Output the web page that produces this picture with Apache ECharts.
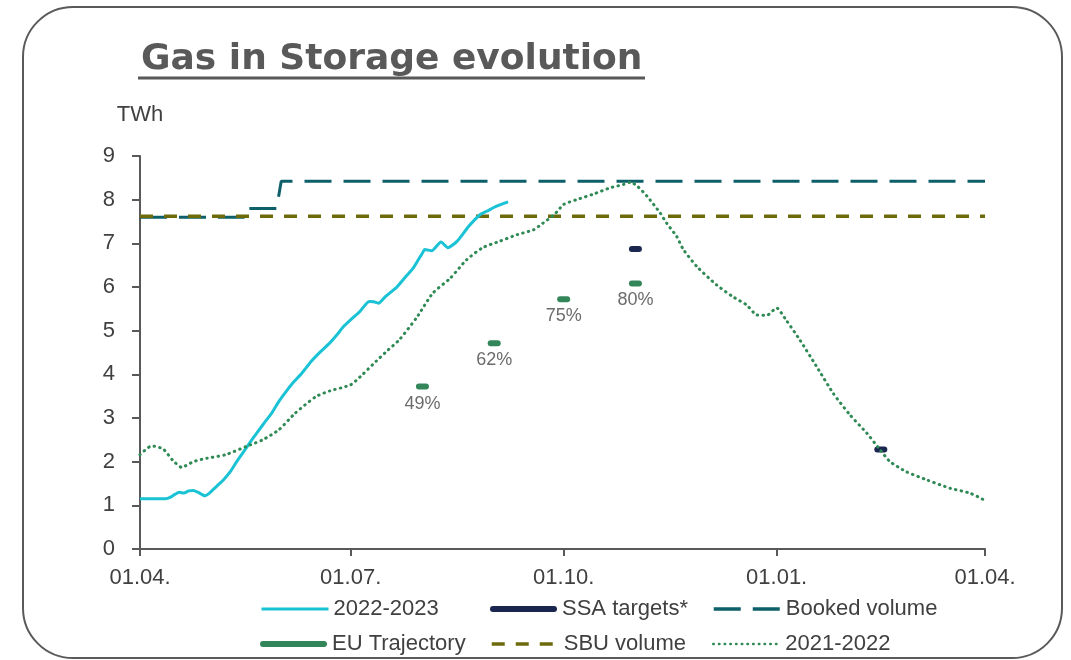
<!DOCTYPE html>
<html>
<head>
<meta charset="utf-8">
<script src="https://cdn.jsdelivr.net/npm/echarts@6/dist/echarts.min.js"></script>
<style>html,body{margin:0;padding:0;background:#fff}#c{width:1071px;height:660px}</style>
</head>
<body>
<div id="c"></div>
<script>
// x values are days since 01.04. (start of gas year)
const tickDays = [0, 91, 183, 275, 365];
const tickLabels = ['01.04.', '01.07.', '01.10.', '01.01.', '01.04.'];
const yTicks = [0, 1, 2, 3, 4, 5, 6, 7, 8, 9];

const season2223 = [
  [0,1.15],[11,1.15],[13,1.18],[15,1.25],[17,1.3],[19,1.28],[21,1.33],[23,1.34],[25,1.3],[28,1.22],
  [30,1.28],[33,1.43],[36,1.58],[39,1.77],[42,2.02],[46,2.32],[49,2.55],[53,2.84],[57,3.12],[60,3.38],
  [63,3.6],[66,3.8],[70,4.03],[74,4.3],[78,4.52],[82,4.72],[85,4.9],[88,5.1],[92,5.3],[95,5.44],
  [99,5.67],[101,5.66],[103,5.63],[106,5.78],[111,6.0],[115,6.25],[118,6.43],[122,6.78],[123,6.86],[126,6.83],
  [130,7.03],[133,6.9],[137,7.05],[142,7.39],[147,7.66],[150,7.74],[154,7.85],[159,7.95]
];
const season2122 = [
  [0,2.16],[5,2.36],[10,2.29],[14,2.04],[18,1.87],[23,2.0],[29,2.08],[37,2.16],[46,2.35],[53,2.5],
  [60,2.73],[67,3.11],[76,3.49],[82,3.62],[91,3.76],[96,3.99],[102,4.3],[107,4.55],[112,4.79],[119.5,5.3],
  [126.5,5.86],[134,6.2],[141,6.62],[148,6.9],[155.5,7.05],[163,7.2],[170,7.31],[174,7.46],[179,7.66],[183,7.89],
  [188.6,8.0],[196,8.13],[203,8.27],[209,8.35],[212,8.4],[215,8.3],[219,8.08],[224.6,7.7],[227.5,7.46],[231.8,7.16],
  [234.7,6.86],[240.5,6.47],[249,6.05],[256,5.78],[262,5.59],[266.4,5.36],[270.7,5.35],[275,5.52],[279,5.25],[285,4.79],
  [292,4.2],[299.5,3.56],[306.7,3.07],[314,2.65],[319.7,2.27],[324,2.0],[331,1.77],[340,1.58],[350,1.39],[358.5,1.28],
  [364,1.14]
];
const bookedVolume = [[0,7.6],[45,7.6],[45.5,7.8],[59,7.8],[61,8.42],[365,8.42]];
const sbuVolume = [[0,7.62],[365,7.62]];
const euDays = [122, 153, 183, 214];
const euValues = [3.72, 4.71, 5.72, 6.08];
const euLabels = ['49%', '62%', '75%', '80%'];
const ssaDays = [214, 320];
const ssaValues = [6.87, 2.28];

const FONT = 'Liberation Sans';
const TXT = '#404040';
const AX = '#595959';
const pill = 'path://M3,0 L10,0 A3,3 0 0 1 10,6 L3,6 A3,3 0 0 1 3,0 Z';
const pillLong = 'path://M3,0 L64,0 A3,3 0 0 1 64,6 L3,6 A3,3 0 0 1 3,0 Z';

const chart = echarts.init(document.getElementById('c'), null, {renderer: 'canvas'});

function legendAt(name, left, top, icon, lw) {
  const item = icon ? {name: name, icon: icon} : {name: name};
  const lg = {
    data: [item], left: left, top: top, itemWidth: 67, itemHeight: 14, itemGap: 10,
    textStyle: {fontFamily: FONT, fontSize: 22, color: TXT}, selectedMode: false
  };
  if (!icon) { lg.itemStyle = {opacity: 0}; lg.lineStyle = {width: lw}; }
  return lg;
}

chart.setOption({
  animation: false,
  textStyle: {fontFamily: FONT},
  title: {
    text: 'Gas in Storage evolution', left: 136, top: 37,
    textStyle: {fontFamily: 'DejaVu Sans', fontWeight: 'bold', fontSize: 36, color: '#595959'}
  },
  graphic: [
    {type: 'rect', shape: {x: 23, y: 7, width: 1039, height: 651, r: 50},
     style: {fill: 'none', stroke: '#5a5a5a', lineWidth: 2}},
    {type: 'line', shape: {x1: 138, y1: 78, x2: 645, y2: 78},
     style: {stroke: '#595959', lineWidth: 3}}
  ],
  legend: [
    legendAt('2022-2023', 255, 593, null, 3),
    legendAt('SSA targets*', 485, 593, pillLong),
    legendAt('Booked volume', 707, 593, null, 3.5),
    legendAt('EU Trajectory', 255, 628, pillLong),
    legendAt('SBU volume', 485, 628, null, 3.5),
    legendAt('2021-2022', 707, 628, null, 2.5)
  ],
  grid: {left: 140, right: 86, top: 156, bottom: 111, containLabel: false},
  xAxis: {
    type: 'value', min: 0, max: 365,
    axisLine: {show: true, lineStyle: {color: AX, width: 2}},
    axisTick: {show: true, customValues: tickDays, length: 7, lineStyle: {color: AX, width: 2}},
    axisLabel: {
      customValues: tickDays, margin: 18, fontSize: 22, color: TXT, fontFamily: FONT,
      formatter: function (v) { const i = tickDays.indexOf(v); return i >= 0 ? tickLabels[i] : ''; }
    },
    splitLine: {show: false}
  },
  yAxis: {
    type: 'value', min: yTicks[0], max: yTicks[yTicks.length - 1], interval: 1,
    name: 'TWh', nameLocation: 'end', nameGap: 30,
    nameTextStyle: {fontFamily: FONT, fontSize: 22, color: TXT},
    axisLine: {show: true, lineStyle: {color: AX, width: 2}},
    axisTick: {show: true, length: 8, lineStyle: {color: AX, width: 2}},
    axisLabel: {margin: 25, fontSize: 22, color: TXT, fontFamily: FONT},
    splitLine: {show: false}
  },
  series: [
    {name: 'Booked volume', type: 'line', data: bookedVolume, symbol: 'none',
     lineStyle: {color: '#0d5f69', width: 3, type: [27, 12]}, itemStyle: {color: '#0d5f69'}, z: 2},
    {name: 'SBU volume', type: 'line', data: sbuVolume, symbol: 'none',
     lineStyle: {color: '#6d6a0c', width: 3.5, type: [13, 11]}, itemStyle: {color: '#6d6a0c'}, z: 2},
    {name: '2022-2023', type: 'line', data: season2223, symbol: 'none', smooth: 0.2,
     lineStyle: {color: '#19c2d4', width: 3}, itemStyle: {color: '#19c2d4'}, z: 3},
    {name: 'EU Trajectory', type: 'scatter', symbol: pill, symbolSize: [13, 6],
     data: euDays.map((d, i) => ({value: [d, euValues[i]], label: {formatter: euLabels[i]}})),
     itemStyle: {color: '#33865a', opacity: 1},
     label: {show: true, position: 'bottom', distance: 5, fontFamily: FONT, fontSize: 18, color: '#6b6b6b'}, z: 4},
    {name: 'SSA targets*', type: 'scatter', symbol: pill, symbolSize: [13, 6],
     data: ssaDays.map((d, i) => [d, ssaValues[i]]),
     itemStyle: {color: '#1a2550', opacity: 1}, z: 4},
    {name: '2021-2022', type: 'line', data: season2122, symbol: 'none', smooth: 0.2,
     lineStyle: {color: '#2f8a55', width: 3, type: [0.5, 5.2], cap: 'round'}, itemStyle: {color: '#2f8a55'}, z: 5}
  ]
});
</script>
</body>
</html>
